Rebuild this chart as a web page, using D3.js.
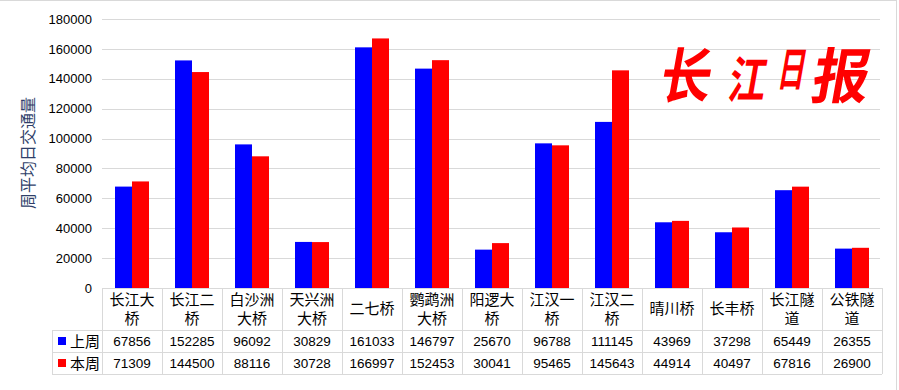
<!DOCTYPE html>
<html>
<head>
<meta charset="utf-8">
<script src="https://cdn.jsdelivr.net/npm/d3@7"></script>
<style>
  body { margin: 0; background: #fff; }
  svg { display: block; }
</style>
</head>
<body>
<div id="chart"></div>
<script>
// data
const categories = ["长江大桥", "长江二桥", "白沙洲大桥", "天兴洲大桥", "二七桥", "鹦鹉洲大桥", "阳逻大桥",
    "江汉一桥", "江汉二桥", "晴川桥", "长丰桥", "长江隧道", "公铁隧道"];
const categoryLines = [["长江大", "桥"], ["长江二", "桥"], ["白沙洲", "大桥"], ["天兴洲", "大桥"], ["二七桥"],
    ["鹦鹉洲", "大桥"], ["阳逻大", "桥"], ["江汉一", "桥"], ["江汉二", "桥"], ["晴川桥"], ["长丰桥"],
    ["长江隧", "道"], ["公铁隧", "道"]];
const lastWeek = [67856, 152285, 96092, 30829, 161033, 146797, 25670, 96788, 111145, 43969, 37298, 65449, 26355];
const thisWeek = [71309, 144500, 88116, 30728, 166997, 152453, 30041, 95465, 145643, 44914, 40497, 67816, 26900];
const seriesNames = ["上周", "本周"];
const seriesColors = ["#0000ff", "#ff0000"];
const yTicks = [0, 20000, 40000, 60000, 80000, 100000, 120000, 140000, 160000, 180000];

const width = 899, height = 390;
const plot = { left: 102, right: 882, top: 19, bottom: 288 };
const rows = { cat: 330, s1: 352, s2: 374, legendLeft: 52 };
const gridColor = "#d9d9d9";
const numFont = "'Liberation Sans', Arial, sans-serif";
const cjkFont = "'Noto Sans CJK SC', sans-serif";

const svg = d3.select("#chart").append("svg")
    .attr("width", width)
    .attr("height", height);

const x = d3.scaleBand().domain(categories).range([plot.left, plot.right]);
const y = d3.scaleLinear().domain([0, 180000]).range([plot.bottom, plot.top]);
const barW = 17;

// outer frame (top and right edges)
svg.append("line").attr("x1", 0).attr("x2", 897).attr("y1", 0.5).attr("y2", 0.5)
    .attr("stroke", gridColor);
svg.append("line").attr("x1", 896.5).attr("x2", 896.5).attr("y1", 0).attr("y2", height)
    .attr("stroke", gridColor);

// gridlines
svg.append("g").selectAll("line")
    .data(yTicks.filter(d => d > 0))
    .join("line")
    .attr("x1", plot.left).attr("x2", plot.right - 2)
    .attr("y1", d => Math.round(y(d)) + 0.5).attr("y2", d => Math.round(y(d)) + 0.5)
    .attr("stroke", gridColor);

// y axis labels
const yAxis = svg.append("g")
    .attr("transform", `translate(${plot.left - 10},0)`)
    .call(d3.axisLeft(y).tickValues(yTicks).tickSize(0).tickPadding(0).tickFormat(d3.format("d")));
yAxis.select(".domain").remove();
yAxis.selectAll("text")
    .attr("font-family", numFont)
    .attr("font-size", 13)
    .attr("fill", "#000");

// y axis title
svg.append("text")
    .attr("transform", `translate(34,153) rotate(-90)`)
    .attr("text-anchor", "middle")
    .attr("font-family", cjkFont)
    .attr("font-size", 16)
    .attr("fill", "#2f3f6a")
    .text("周平均日交通量");

// logo (calligraphic masthead, approximated with text)
const logoChars = [
    { c: "长", cx: 683, size: 60, sx: 0.85 },
    { c: "江", cx: 745, size: 50, sx: 0.75 },
    { c: "日", cx: 790, size: 46, sx: 0.6 },
    { c: "报", cx: 838, size: 60, sx: 0.95 }
];
const logo = svg.append("g")
    .attr("font-family", cjkFont)
    .attr("font-weight", 700)
    .attr("fill", "#ff0000");
logoChars.forEach(d => {
    logo.append("text")
        .attr("transform", `translate(${d.cx},${d.size === 46 ? 86 : 98}) skewX(-10) scale(${d.sx},1)`)
        .attr("text-anchor", "middle")
        .attr("font-size", d.size)
        .text(d.c);
});

// bars
const groups = svg.append("g").selectAll("g")
    .data(categories)
    .join("g");
groups.append("rect")
    .attr("x", (d, i) => x(d) + x.bandwidth() / 2 - barW)
    .attr("y", (d, i) => y(lastWeek[i]))
    .attr("width", barW)
    .attr("height", (d, i) => y(0) - y(lastWeek[i]))
    .attr("fill", seriesColors[0]);
groups.append("rect")
    .attr("x", (d, i) => x(d) + x.bandwidth() / 2)
    .attr("y", (d, i) => y(thisWeek[i]))
    .attr("width", barW)
    .attr("height", (d, i) => y(0) - y(thisWeek[i]))
    .attr("fill", seriesColors[1]);

// data table
const table = svg.append("g").attr("stroke", gridColor).attr("fill", "none");
table.append("line").attr("x1", plot.left).attr("x2", plot.right).attr("y1", plot.bottom + 0.5).attr("y2", plot.bottom + 0.5);
[rows.cat, rows.s1, rows.s2].forEach(yy => {
    table.append("line").attr("x1", rows.legendLeft).attr("x2", plot.right)
        .attr("y1", yy + 0.5).attr("y2", yy + 0.5);
});
table.append("line").attr("x1", rows.legendLeft + 0.5).attr("x2", rows.legendLeft + 0.5)
    .attr("y1", rows.cat).attr("y2", rows.s2);
const colEdges = categories.map(c => x(c)).concat([plot.right]);
table.selectAll(".col").data(colEdges).join("line")
    .attr("x1", d => Math.round(d) + 0.5).attr("x2", d => Math.round(d) + 0.5)
    .attr("y1", plot.bottom).attr("y2", rows.s2);

// category labels
svg.append("g").selectAll("text")
    .data(categories)
    .join("text")
    .attr("text-anchor", "middle")
    .attr("font-family", cjkFont)
    .attr("font-size", 15)
    .attr("fill", "#000")
    .each(function (d, i) {
        const lines = categoryLines[i];
        const cx = x(d) + x.bandwidth() / 2;
        const startY = lines.length === 1 ? 314 : 305;
        d3.select(this).selectAll("tspan").data(lines).join("tspan")
            .attr("x", cx)
            .attr("y", (l, j) => startY + j * 19)
            .text(l => l);
    });

// series rows
[lastWeek, thisWeek].forEach((vals, s) => {
    const top = s === 0 ? rows.cat : rows.s1;
    const mid = top + 11;
    svg.append("rect")
        .attr("x", 58).attr("y", mid - 4)
        .attr("width", 8).attr("height", 8)
        .attr("fill", seriesColors[s]);
    svg.append("text")
        .attr("x", 70).attr("y", mid + 5.5)
        .attr("font-family", cjkFont).attr("font-size", 15)
        .attr("fill", "#000")
        .text(seriesNames[s]);
    svg.append("g").selectAll("text")
        .data(vals)
        .join("text")
        .attr("x", (d, i) => x(categories[i]) + x.bandwidth() / 2)
        .attr("y", mid + 5)
        .attr("text-anchor", "middle")
        .attr("font-family", numFont)
        .attr("font-size", 13.5)
        .attr("fill", "#000")
        .text(d => d);
});
</script>
</body>
</html>
